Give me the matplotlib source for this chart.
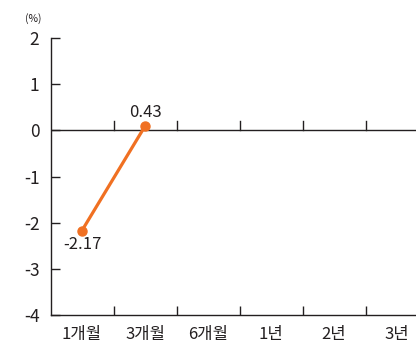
import matplotlib
matplotlib.use("Agg")
import matplotlib.pyplot as plt
import numpy as np

plt.rcParams['font.family'] = ['Noto Sans CJK KR', 'DejaVu Sans']

categories = ['1개월', '3개월', '6개월', '1년', '2년', '3년']
# plotted positions (the 3개월 point sits just above 0)
values = [-2.17, 0.09]
value_labels = ['-2.17', '0.43']
yticks = [-4, -3, -2, -1, 0, 1, 2]

ink = '#231f20'
orange = '#f07022'

fig = plt.figure(figsize=(4.16, 3.44), dpi=100)
ax = fig.add_axes([50.5/416, 29/344, 378/416, 277/344])

x = np.arange(len(values))
ax.plot(x, values, color=orange, lw=2.3, marker='o', ms=6.5, zorder=3,
        solid_capstyle='round')

ax.text(x[0], values[0] - 0.3, value_labels[0], ha='center', va='center',
        fontsize=12, color=ink)
ax.text(x[1], values[1] + 0.3, value_labels[1], ha='center', va='center',
        fontsize=12, color=ink)

ax.set_xlim(-0.5, len(categories) - 0.5)
ax.set_ylim(-4, 2)
ax.set_xticks(np.arange(len(categories)))
ax.set_xticklabels(categories)
ax.set_xticks(np.arange(len(categories) - 1) + 0.5, minor=True)
ax.set_yticks(yticks)
ax.set_yticklabels([str(v) for v in yticks])

ax.tick_params(axis='x', which='major', length=0, pad=8, labelsize=12, labelcolor=ink)
ax.tick_params(axis='x', which='minor', direction='in', length=6.5, width=1, color=ink)
ax.tick_params(axis='y', direction='in', length=6.5, width=1, color=ink, pad=8,
               labelsize=12.5, labelcolor=ink)

for s in ['top', 'right']:
    ax.spines[s].set_visible(False)
for s in ['left', 'bottom']:
    ax.spines[s].set_color(ink)
    ax.spines[s].set_linewidth(1)

ax.axhline(0, color=ink, lw=1, zorder=2)
tick_h = 9 / (277 / 6)
for xm in np.arange(len(categories) - 1) + 0.5:
    ax.plot([xm, xm], [0, tick_h], color=ink, lw=1, zorder=2)

fig.text(33/416, 1 - 19/344, '(%)', ha='center', va='center', fontsize=7.5, color=ink)

fig.savefig('out.png', dpi=100)
